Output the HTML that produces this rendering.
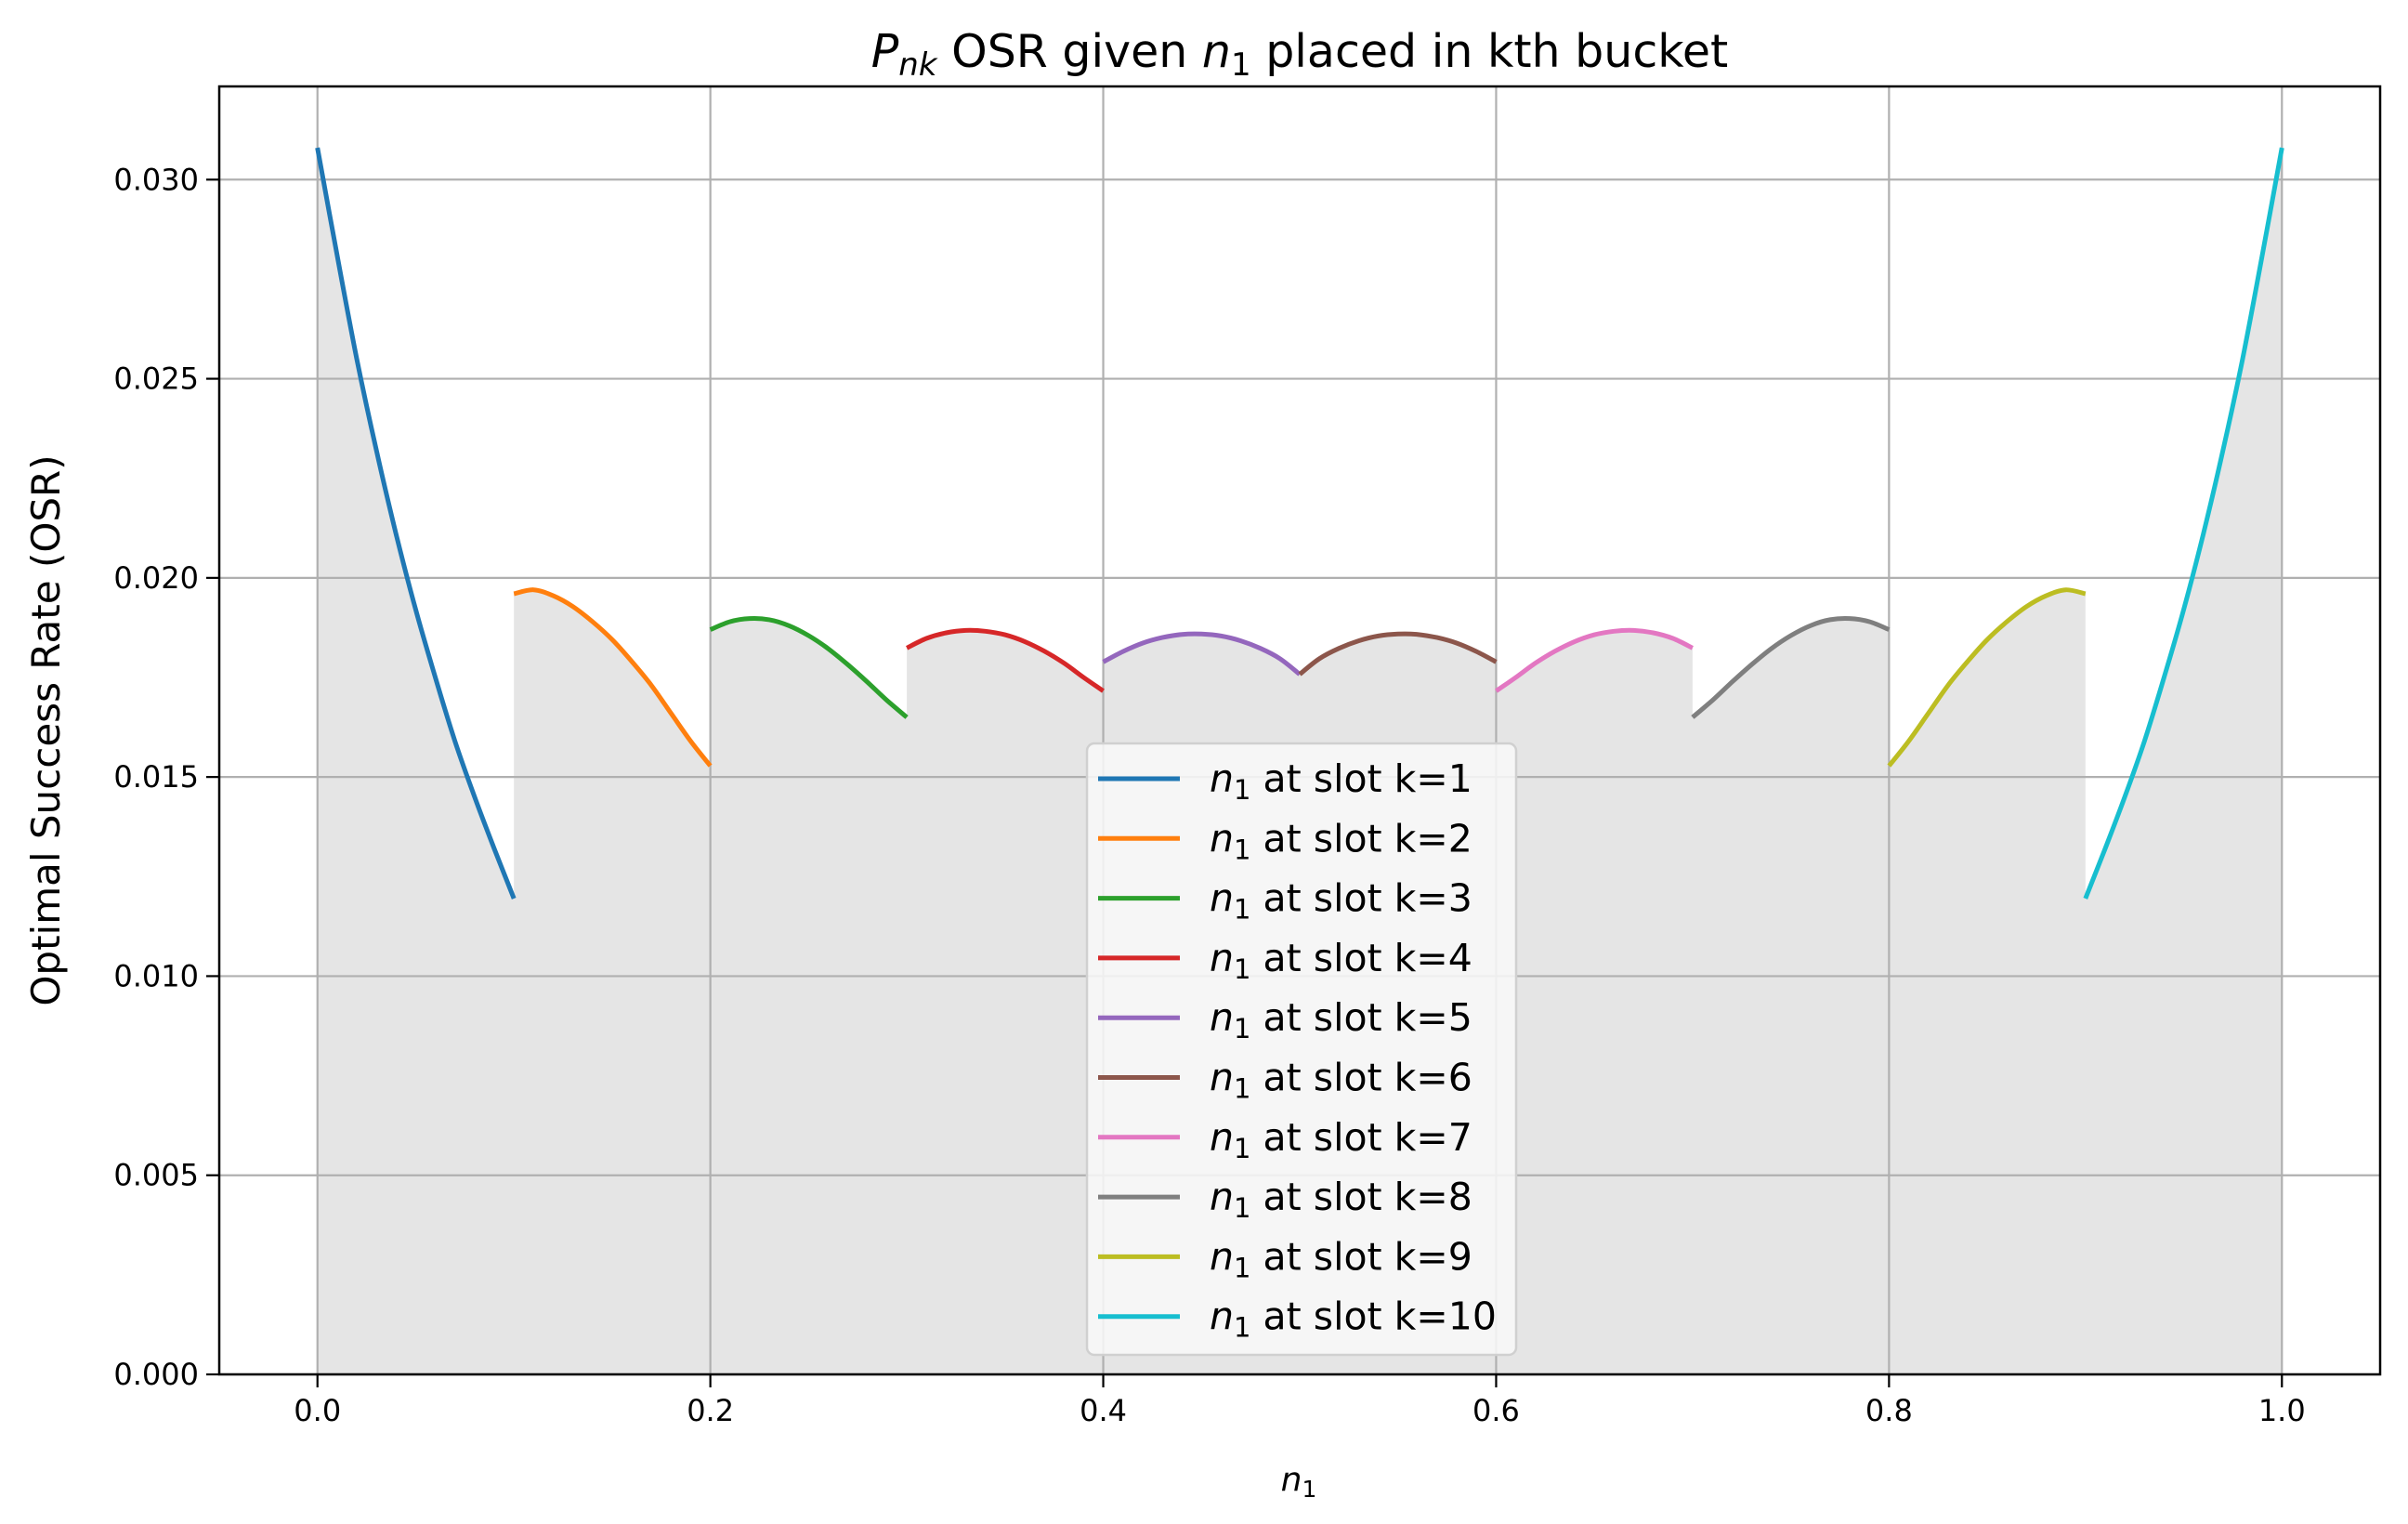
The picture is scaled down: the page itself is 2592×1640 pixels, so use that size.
<!DOCTYPE html>
<html><head><meta charset="utf-8"><style>
html,body{margin:0;padding:0;background:#fff;}
svg{display:block;font-family:"DejaVu Sans","Liberation Sans",sans-serif;}
</style></head><body>
<svg id="chart" width="2592" height="1640" viewBox="0 0 2592 1640" xmlns="http://www.w3.org/2000/svg">
<rect width="2592" height="1640" fill="#fff"/>
<g id="fill"></g>
<g id="grid"></g>
<g id="lines"></g>
<g id="axes"></g>
<g id="legend"></g>
<text x="1399" y="72" font-size="49" text-anchor="middle"><tspan font-style="italic">P</tspan><tspan font-style="italic" font-size="34" dy="9">nk</tspan><tspan dy="-9"> OSR given </tspan><tspan font-style="italic">n</tspan><tspan font-size="34" dy="9">1</tspan><tspan dy="-9"> placed in kth bucket</tspan></text>
<text x="1398" y="1604" font-size="36" text-anchor="middle"><tspan font-style="italic">n</tspan><tspan font-size="25" dy="7">1</tspan></text>
<text x="0" y="0" font-size="42" text-anchor="middle" transform="translate(64,786) rotate(-90)">Optimal Success Rate (OSR)</text>
</svg>
<script>
const xTicks = [0.0, 0.2, 0.4, 0.6, 0.8, 1.0];
const xTickLabels = ["0.0", "0.2", "0.4", "0.6", "0.8", "1.0"];
const yTicks = [0, 0.005, 0.010, 0.015, 0.020, 0.025, 0.030];
const yTickLabels = ["0.000", "0.005", "0.010", "0.015", "0.020", "0.025", "0.030"];
const seriesLabels = ["k=1","k=2","k=3","k=4","k=5","k=6","k=7","k=8","k=9","k=10"];
const colors = ["#1f77b4","#ff7f0e","#2ca02c","#d62728","#9467bd","#8c564b","#e377c2","#7f7f7f","#bcbd22","#17becf"];
const k1 = [0.0308,0.0281,0.0255,0.0232,0.0211,0.0192,0.0175,0.0159,0.0145,0.0132,0.01195];
const k2 = [0.0196,0.01970,0.01955,0.01928,0.0189,0.01845,0.0179,0.0173,0.0166,0.0159,0.01528];
const k3 = [0.01870,0.01890,0.01898,0.01895,0.01880,0.01855,0.01822,0.01782,0.01738,0.01692,0.01650];
const k4 = [0.01824,0.01848,0.01862,0.01868,0.01866,0.01857,0.0184,0.01816,0.01786,0.0175,0.01716];
const k5 = [0.01789,0.01815,0.01836,0.0185,0.01858,0.01859,0.01854,0.01842,0.01823,0.01797,0.01758];
const k6 = k5.slice().reverse();
const k7 = k4.slice().reverse();
const k8 = k3.slice().reverse();
const k9 = k2.slice().reverse();
const k10 = k1.slice().reverse();
const series = [k1,k2,k3,k4,k5,k6,k7,k8,k9,k10];

const L=236,R=2562,T=93,B=1479;
const xMin=-0.05,xMax=1.05,yMin=0,yMax=0.03234;
const xs=v=>L+(v-xMin)/(xMax-xMin)*(R-L);
const ys=v=>B-(v-yMin)/(yMax-yMin)*(B-T);
const NS="http://www.w3.org/2000/svg";
function mk(tag,attrs,parent){const e=document.createElementNS(NS,tag);for(const k in attrs)e.setAttribute(k,attrs[k]);parent.appendChild(e);return e;}
const gFill=document.getElementById('fill'),gGrid=document.getElementById('grid'),gLines=document.getElementById('lines'),gAxes=document.getElementById('axes'),gLeg=document.getElementById('legend');

function pts(s,i){return s.map((v,j)=>[xs((i+j/(s.length-1))/10),ys(v)]);}
function smooth(p){
  let d='';
  for(let i=0;i<p.length-1;i++){
    const p0=p[Math.max(0,i-1)],p1=p[i],p2=p[i+1],p3=p[Math.min(p.length-1,i+2)];
    const c1=[p1[0]+(p2[0]-p0[0])/6,p1[1]+(p2[1]-p0[1])/6];
    const c2=[p2[0]-(p3[0]-p1[0])/6,p2[1]-(p3[1]-p1[1])/6];
    d+=' C'+c1.map(n=>n.toFixed(1)).join(',')+' '+c2.map(n=>n.toFixed(1)).join(',')+' '+p2.map(n=>n.toFixed(1)).join(',');
  }
  return d;
}

// fill
let fd='M'+xs(0)+','+ys(0);
series.forEach((s,i)=>{const p=pts(s,i);fd+=' L'+p[0][0].toFixed(1)+','+p[0][1].toFixed(1)+smooth(p);});
fd+=' L'+xs(1)+','+ys(0)+' Z';
const poly=mk('path',{d:fd,fill:'#e5e5e5'},gFill);



// grid + ticks
xTicks.forEach((t,i)=>{
  const gl=mk('line',{x1:xs(t),x2:xs(t),y1:T,y2:B,stroke:'#b0b0b0','stroke-width':2.2},gGrid);
  
  
  const tk=mk('line',{x1:xs(t),x2:xs(t),y1:B,y2:B+14,stroke:'#000','stroke-width':2.2},gAxes);
  
  
  const tx=mk('text',{x:xs(t),y:B+50,'font-size':32,'text-anchor':'middle'},gAxes);
  tx.textContent=xTickLabels[i];
  
  
});
yTicks.forEach((t,i)=>{
  const gl=mk('line',{x1:L,x2:R,y1:ys(t),y2:ys(t),stroke:'#b0b0b0','stroke-width':2.2},gGrid);
  
  
  const tk=mk('line',{x1:L-14,x2:L,y1:ys(t),y2:ys(t),stroke:'#000','stroke-width':2.2},gAxes);
  
  
  const tx=mk('text',{x:L-22,y:ys(t)+11,'font-size':32,'text-anchor':'end'},gAxes);
  tx.textContent=yTickLabels[i];
  
  
});
const fr=mk('rect',{x:L,y:T,width:R-L,height:B-T,fill:'none',stroke:'#000','stroke-width':2.5},gAxes);



// lines
series.forEach((s,i)=>{
  const p=pts(s,i);
  const pl=mk('path',{d:'M'+p[0][0].toFixed(1)+','+p[0][1].toFixed(1)+smooth(p),fill:'none',stroke:colors[i],'stroke-width':5,'stroke-linejoin':'round'},gLines);
  
  
});

// legend
const lb=mk('rect',{x:1170,y:800,width:462,height:658,rx:8,fill:'#f9f9f9','fill-opacity':0.85,stroke:'#d0d0d0','stroke-width':2.5},gLeg);


seriesLabels.forEach((lab,i)=>{
  const y=838+64.3*i;
  const ll=mk('line',{x1:1182,x2:1270,y1:y,y2:y,stroke:colors[i],'stroke-width':5},gLeg);
  
  
  const t=mk('text',{x:1302,y:y+14,'font-size':41},gLeg);
  
  
  const a=mk('tspan',{'font-style':'italic'},t);a.textContent='n';
  const b=mk('tspan',{'font-size':29,dy:8},t);b.textContent='1';
  const c=mk('tspan',{dy:-8},t);c.textContent=' at slot '+lab;
});
</script>
</body></html>
